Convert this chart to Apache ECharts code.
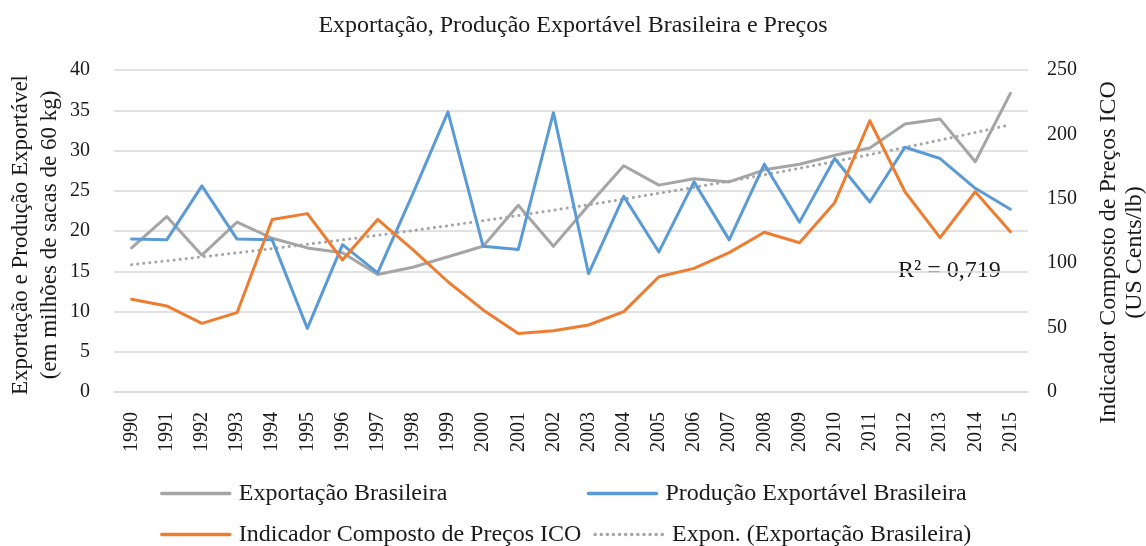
<!DOCTYPE html>
<html>
<head>
<meta charset="utf-8">
<script src="https://cdn.jsdelivr.net/npm/echarts@6/dist/echarts.min.js"></script>
<style>
    html, body {margin: 0; padding: 0; background: #fff;}
    #chart {width: 1146px; height: 546px;}
</style>
</head>
<body>
<div id="chart"></div>
<script>
    const anos = ['1990', '1991', '1992', '1993', '1994', '1995', '1996', '1997', '1998', '1999', '2000', '2001', '2002',
        '2003', '2004', '2005', '2006', '2007', '2008', '2009', '2010', '2011', '2012', '2013', '2014', '2015'];
    // milhões de sacas de 60 kg
    const exportacao = [17.9, 21.8, 17.0, 21.1, 19.1, 17.9, 17.3, 14.6, 15.5, 16.8, 18.1, 23.2, 18.1,
        23.2, 28.1, 25.7, 26.5, 26.1, 27.6, 28.3, 29.4, 30.3, 33.3, 33.9, 28.6, 37.1];
    const producao = [19.0, 18.9, 25.6, 19.0, 18.9, 7.9, 18.3, 14.8, 24.6, 34.8, 18.1, 17.7, 34.7,
        14.7, 24.3, 17.4, 26.1, 18.9, 28.3, 21.1, 29.0, 23.6, 30.4, 29.0, 25.3, 22.7];
    // US Cents/lb
    const precoICO = [72.0, 66.8, 53.3, 61.6, 134.0, 138.5, 102.5, 134.0, 110.5, 85.6, 63.7, 45.5, 47.6,
        52.0, 62.4, 89.5, 96.0, 108.2, 124.0, 115.9, 147.0, 210.6, 155.5, 119.8, 155.5, 124.5];
    const leftTicks = {min: 0, max: 40, interval: 5};
    const rightTicks = {min: 0, max: 250, interval: 50};
    const r2Texto = 'R² = 0,719';

    // linha de tendência exponencial (ajuste de mínimos quadrados em ln y, como no Excel)
    function tendenciaExpon(ys) {
        const n = ys.length;
        let sx = 0, sy = 0, sxx = 0, sxy = 0;
        ys.forEach((y, i) => {
            const ly = Math.log(y);
            sx += i; sy += ly; sxx += i * i; sxy += i * ly;
        });
        const b = (n * sxy - sx * sy) / (n * sxx - sx * sx);
        const a = (sy - b * sx) / n;
        return ys.map((_, i) => +Math.exp(a + b * i).toFixed(3));
    }

    const FONT = '"Liberation Serif", "Times New Roman", serif';
    const TXT = '#1a1a1a';
    const GRID = '#d9d9d9';

    const chart = echarts.init(document.getElementById('chart'));
    const S = (name, data, color, extra) => Object.assign({
        name, type: 'line', data, symbol: 'none', smooth: false,
        lineStyle: {color, width: 3, cap: 'round', join: 'round'},
        itemStyle: {color}, emphasis: {disabled: true}
    }, extra || {});

    chart.setOption({
        animation: false,
        title: {
            text: 'Exportação, Produção Exportável Brasileira e Preços',
            left: 'center', top: 9,
            textStyle: {fontFamily: FONT, fontSize: 24, fontWeight: 'normal', color: TXT}
        },
        grid: {left: 114, right: 118, top: 70, bottom: 154, outerBoundsMode: 'none'},
        legend: {
            left: 155, top: 474, width: 960,
            itemWidth: 68, itemHeight: 14, itemGap: 12,
            itemStyle: {opacity: 0},
            lineStyle: {width: 3.5},
            textStyle: {fontFamily: FONT, fontSize: 24, color: TXT, width: 336, lineHeight: 29, padding: [0, 0, 0, 4]},
            data: ['Exportação Brasileira', 'Produção Exportável Brasileira',
                'Indicador Composto de Preços ICO', 'Expon. (Exportação Brasileira)']
        },
        xAxis: {
            type: 'category', data: anos, boundaryGap: true,
            axisLine: {lineStyle: {color: GRID, width: 1.5}},
            axisTick: {show: false},
            axisLabel: {rotate: 90, margin: 20, fontFamily: FONT, fontSize: 20, color: TXT, interval: 0}
        },
        yAxis: [{
            type: 'value', position: 'left', ...leftTicks,
            name: 'Exportação e Produção Exportável\n(em milhões de sacas de 60 kg)',
            nameLocation: 'middle', nameGap: 50, nameMoveOverlap: false,
            nameTextStyle: {fontFamily: FONT, fontSize: 23, color: TXT, lineHeight: 29, padding: [0, 8, 0, 0]},
            axisLine: {show: false}, axisTick: {show: false},
            axisLabel: {margin: 24, fontFamily: FONT, fontSize: 20, color: TXT},
            splitLine: {lineStyle: {color: GRID, width: 1.5}}
        }, {
            type: 'value', position: 'right', ...rightTicks,
            name: 'Indicador Composto de Preços ICO\n(US Cents/lb)',
            nameLocation: 'middle', nameGap: 68, nameMoveOverlap: false,
            nameTextStyle: {fontFamily: FONT, fontSize: 24, color: TXT, lineHeight: 26, padding: [0, 43, 0, 0]},
            axisLine: {show: false}, axisTick: {show: false},
            axisLabel: {margin: 19, fontFamily: FONT, fontSize: 20, color: TXT},
            splitLine: {show: false}
        }],
        graphic: [{
            type: 'text', left: 898, top: 259,
            style: {text: r2Texto, font: '24px ' + FONT, fill: TXT}
        }],
        series: [
            S('Exportação Brasileira', exportacao, '#a5a5a5', {z: 3}),
            S('Produção Exportável Brasileira', producao, '#5b9bd5', {z: 4}),
            S('Indicador Composto de Preços ICO', precoICO, '#ed7d31', {yAxisIndex: 1, z: 5}),
            S('Expon. (Exportação Brasileira)', tendenciaExpon(exportacao), '#a5a5a5', {
                z: 2, lineStyle: {color: '#a5a5a5', width: 3, type: [0.1, 6], cap: 'round'}
            })
        ]
    });
</script>
</body>
</html>
